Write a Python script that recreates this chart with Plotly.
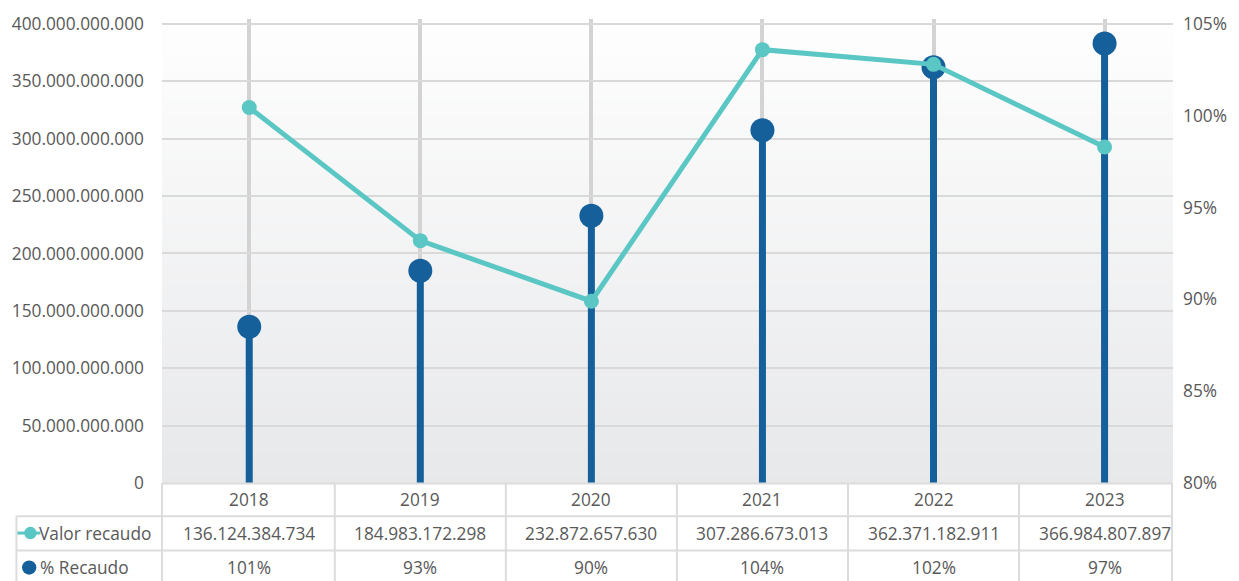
import plotly.graph_objects as go

years = ["2018", "2019", "2020", "2021", "2022", "2023"]
valor_recaudo = [136124384734, 184983172298, 232872657630, 307286673013, 362371182911, 366984807897]
valor_grafico = [136124384734, 184983172298, 232872657630, 307286673013, 362371182911, 383000000000]
pct_recaudo = [100.45, 93.2, 89.9, 103.6, 102.8, 98.3]
pct_labels = [101, 93, 90, 104, 102, 97]
pct_ticks = [80, 85, 90, 95, 100, 105]

DARK = "#15609A"
TEAL = "#5BC7C4"
TXT = "#595959"
GRID = "#D9D9D9"
LINE = "#DCDCDC"
FONT = "Open Sans"
FS = 17.3

W, H = 1239, 581
L, R, T, B = 161, 1175, 15, 483
XR = [-0.51, 5.40]


def px(x):
    return (x - L) / (R - L)


def py(y):
    return (B - y) / (B - T)


def xcat(v):
    return (v - XR[0]) / (XR[1] - XR[0])


fig = go.Figure()

# stems
sx, sy = [], []
for yr, v in zip(years, valor_grafico):
    sx += [yr, yr, None]
    sy += [0, v, None]
fig.add_trace(go.Scatter(x=sx, y=sy, mode="lines", line=dict(color=DARK, width=7),
                         hoverinfo="skip", showlegend=False))
fig.add_trace(go.Scatter(x=years, y=valor_grafico, mode="markers", name="Valor recaudo",
                         marker=dict(color=DARK, size=24), showlegend=False))
fig.add_trace(go.Scatter(x=years, y=pct_recaudo, mode="lines+markers", name="% Recaudo",
                         yaxis="y2", line=dict(color=TEAL, width=5),
                         marker=dict(color=TEAL, size=15), showlegend=False))

shapes = []
# background gradient
n = 60
top_c = (0xFE, 0xFE, 0xFE)
bot_c = (0xE7, 0xE8, 0xEA)
y0, y1 = 20, B
for i in range(n):
    t = (i + 0.5) / n
    c = tuple(round(top_c[k] + (bot_c[k] - top_c[k]) * t) for k in range(3))
    ya = y0 + (y1 - y0) * i / n
    yb = y0 + (y1 - y0) * (i + 1) / n + 0.5
    shapes.append(dict(type="rect", xref="paper", yref="paper", layer="below",
                       x0=0, x1=1, y0=py(yb), y1=py(ya), line=dict(width=0),
                       fillcolor="rgb(%d,%d,%d)" % c))


def seg(x0, y0, x1, y1, color=LINE, width=2):
    shapes.append(dict(type="line", xref="paper", yref="paper", x0=px(x0), y0=py(y0),
                       x1=px(x1), y1=py(y1), line=dict(color=color, width=width)))


# table grid
seg(161, 483.5, 1174, 483.5)
seg(15, 516.5, 1174, 516.5)
seg(15, 551, 1174, 551)
seg(15, 516.5, 15, 585)
seg(161, 483, 161, 585)
seg(1174, 483, 1174, 585)
for i in range(len(years) - 1):
    xc = xcat(i + 0.5)
    shapes.append(dict(type="line", xref="paper", yref="paper", x0=xc, x1=xc,
                       y0=py(483), y1=py(585), line=dict(color=LINE, width=2)))

# legend symbols in table
seg(16, 533.5, 39, 533.5, TEAL, 3)
shapes.append(dict(type="circle", xref="paper", yref="paper", x0=px(22.7), x1=px(35.3),
                   y0=py(539.8), y1=py(527.2), fillcolor=TEAL, line=dict(width=0)))
shapes.append(dict(type="circle", xref="paper", yref="paper", x0=px(20.6), x1=px(35),
                   y0=py(575.5), y1=py(561.1), fillcolor=DARK, line=dict(width=0)))

annotations = []
tf = dict(family=FONT, size=FS, color=TXT)
for i, yr in enumerate(years):
    annotations.append(dict(x=xcat(i), y=py(499.7), xref="paper", yref="paper", text=yr,
                            showarrow=False, font=tf, xanchor="center", yanchor="middle"))
    annotations.append(dict(x=xcat(i), y=py(533.5), xref="paper", yref="paper",
                            text=f"{valor_recaudo[i]:,}".replace(",", "."),
                            showarrow=False, font=tf, xanchor="center", yanchor="middle"))
    annotations.append(dict(x=xcat(i), y=py(568), xref="paper", yref="paper",
                            text=f"{pct_labels[i]}%",
                            showarrow=False, font=tf, xanchor="center", yanchor="middle"))
annotations.append(dict(x=px(36), y=py(533.5), xref="paper", yref="paper", text="Valor recaudo",
                        showarrow=False, font=tf, xanchor="left", yanchor="middle"))
annotations.append(dict(x=px(36.5), y=py(568), xref="paper", yref="paper", text="% Recaudo",
                        showarrow=False, font=tf, xanchor="left", yanchor="middle"))

ytop = 400e9 + (20 - T) / ((B - 20) / 400e9)
y2top = 105 + (20 - T) / ((B - 20) / 25)

fig.update_layout(
    width=W, height=H,
    margin=dict(l=L, r=W - R, t=T, b=H - B, pad=0),
    paper_bgcolor="white", plot_bgcolor="white",
    separators=",.",
    font=dict(family=FONT, size=FS, color=TXT),
    shapes=shapes, annotations=annotations,
    xaxis=dict(type="category", range=XR, showticklabels=False, showgrid=True,
               gridcolor="#D3D3D3", gridwidth=4, zeroline=False, showline=False,
               ticks="", fixedrange=True),
    yaxis=dict(range=[0, ytop], tickvals=[k * 50e9 for k in range(9)], tickformat=",.0f",
               showgrid=True, gridcolor=GRID, gridwidth=2, zeroline=False, showline=False,
               ticks="", ticklabelstandoff=17, tickfont=dict(size=FS, color=TXT)),
    yaxis2=dict(range=[80, y2top], overlaying="y", side="right",
                tickvals=pct_ticks, ticktext=[f"{v}%" for v in pct_ticks], showgrid=False,
                zeroline=False, showline=False, ticks="", ticklabelstandoff=9,
                tickfont=dict(size=FS, color=TXT)),
    showlegend=False,
)

fig.write_html("out.html", config={"displayModeBar": False},
               post_script="document.body.style.margin='0';")
